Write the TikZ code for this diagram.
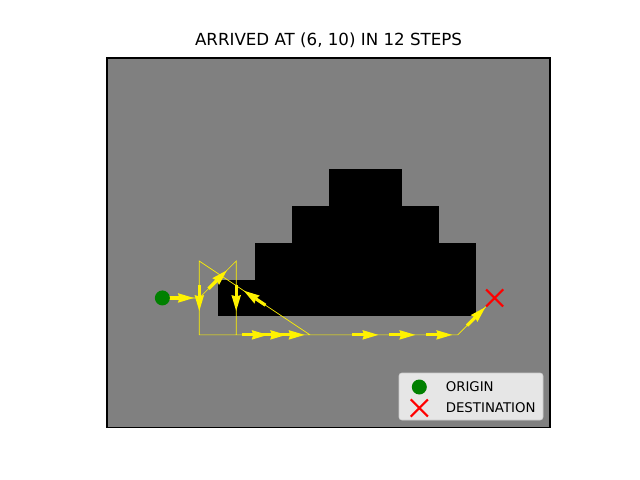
\documentclass[tikz,border=0pt]{standalone}
\usepackage{fontspec}
\setmainfont{DejaVu Sans}
\usetikzlibrary{arrows.meta,calc,shapes.misc}
\definecolor{floorgray}{RGB}{128,128,128}
\definecolor{startgreen}{RGB}{0,128,0}
\definecolor{legendfill}{RGB}{230,230,230}
\definecolor{legendedge}{RGB}{204,204,204}
\begin{document}
\begin{tikzpicture}[x=0.72pt, y=-0.72pt,
		route/.style={draw=yellow, line width=0.5pt},
		quiver/.style={draw=yellow, line width=2.3pt, -{Stealth[length=11.5pt, width=6.9pt, inset=1.1pt, line width=0pt]}},
		start/.style={circle, fill=startgreen, inner sep=0pt, minimum size=10.8pt},
		goal/.style={cross out, draw=red, line width=1.5pt, inner sep=0pt, minimum size=10.8pt},
		keytext/.style={anchor=west, inner sep=0pt, font=\fontsize{9.6pt}{12pt}\selectfont}
	]
		\useasboundingbox (0,0) rectangle (640,480);

		\node[font=\fontsize{12pt}{14pt}\selectfont] (title) at (328.5,40) {ARRIVED AT (6, 10) IN 12 STEPS};

		\begin{scope}[x=26.58pt, y=-26.58pt, shift={(90.33pt,-55.05pt)}]
			\fill[floorgray] (-0.5,-0.5) rectangle (11.5,9.5);

			\fill[black] (5.5,2.5) rectangle (7.5,3.5);
			\fill[black] (4.5,3.5) rectangle (8.5,4.5);
			\fill[black] (3.5,4.5) rectangle (9.5,5.5);
			\fill[black] (2.5,5.5) rectangle (9.5,6.5);

			\coordinate (p0) at (1,6);
			\coordinate (p1) at (2,6);
			\coordinate (p2) at (3,5);
			\coordinate (p3) at (3,7);
			\coordinate (p4) at (4,7);
			\coordinate (p5) at (5,7);
			\coordinate (p6) at (2,5);
			\coordinate (p7) at (2,7);
			\coordinate (p8) at (6,7);
			\coordinate (p9) at (7,7);
			\coordinate (p10) at (8,7);
			\coordinate (p11) at (9,7);
			\coordinate (p12) at (10,6);

			\draw[route] (p0) -- (p1) -- (p2) -- (p3) -- (p4) -- (p5) -- (p6)
				-- (p7) -- (p8) -- (p9) -- (p10) -- (p11) -- (p12);

			\foreach \a/\b in {p0/p1, p1/p2, p2/p3, p3/p4, p4/p5, p5/p6,
				p6/p7, p7/p8, p8/p9, p9/p10, p10/p11, p11/p12} {
				\coordinate (mid) at ($(\a)!0.5!(\b)$);
				\draw[quiver] ($(mid)!9.36pt!(\a)$) -- ($(mid)!9.36pt!(\b)$);
			}

			\node[start] (origin) at (p0) {};
			\node[goal] (destination) at (p12) {};

			\draw[line width=0.8pt] (-0.5,-0.5) rectangle (11.5,9.5);
		\end{scope}

		\draw[rounded corners=2pt, fill=legendfill, draw=legendedge] (399,373) rectangle (543,420);
		\node[start] (key origin) at (419.3,387) {};
		\node[goal] (key destination) at (419.3,408) {};
		\node[keytext] (origin label) at (445.5,386.5) {ORIGIN};
		\node[keytext] (destination label) at (445.5,407.5) {DESTINATION};
	\end{tikzpicture}
\end{document}
